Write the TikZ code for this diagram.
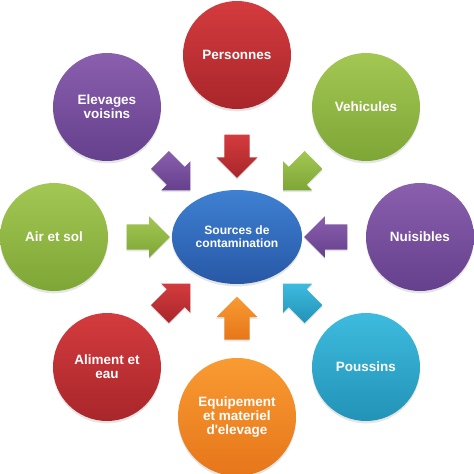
\documentclass[tikz,border=0pt]{standalone}
\usepackage{fontspec}
\setmainfont{Liberation Sans}[Ligatures=TeXOff]
\usepackage{tikz}
\usetikzlibrary{shapes.geometric,shapes.arrows,calc,shadows}
\definecolor{redtop}{HTML}{D43B3E}
\definecolor{redbot}{HTML}{A8262A}
\definecolor{greentop}{HTML}{A3C753}
\definecolor{greenbot}{HTML}{7EA636}
\definecolor{purptop}{HTML}{8A5FAE}
\definecolor{purpbot}{HTML}{65408C}
\definecolor{bluetop}{HTML}{3F80D2}
\definecolor{bluebot}{HTML}{2758A6}
\definecolor{tealtop}{HTML}{3DBBDE}
\definecolor{tealbot}{HTML}{2293B7}
\definecolor{orgtop}{HTML}{F99B32}
\definecolor{orgbot}{HTML}{E6761A}

\begin{document}
\begin{tikzpicture}[
src/.style={ellipse,minimum width=3.05cm,minimum height=2.35cm,top color=bluetop,bottom color=bluebot,text=white,align=center,font=\fontsize{8.6}{9.2}\selectfont\bfseries,drop shadow={opacity=0.2,shadow xshift=0pt,shadow yshift=-0.06cm}},
circ/.style={circle,minimum size=2.7cm,inner sep=0pt,text=white,align=center,font=\fontsize{9.6}{10}\selectfont\bfseries,drop shadow={opacity=0.2,shadow xshift=0pt,shadow yshift=-0.06cm}},
barr/.style={single arrow,minimum height=1.08cm,inner xsep=0pt,inner ysep=0.31cm,single arrow head extend=0.2cm,drop shadow={opacity=0.2,shadow xshift=0pt,shadow yshift=-0.04cm}},
red/.style={top color=redtop,bottom color=redbot},
green/.style={top color=greentop,bottom color=greenbot},
purple/.style={top color=purptop,bottom color=purpbot},
teal/.style={top color=tealtop,bottom color=tealbot},
orange/.style={top color=orgtop,bottom color=orgbot}
]
\useasboundingbox (-5.925,-5.925) rectangle (5.925,5.925);
\fill[white] (-5.925,-5.925) rectangle (5.925,5.925);
\node[src] (src) at (0,0) {Sources de\\contamination};
\node[circ,red] (pers) at (0,4.55) {Personnes};
\node[circ,green] (vehi) at (3.225,3.25) {Vehicules};
\node[circ,purple] (nuis) at (4.575,0) {Nuisibles};
\node[circ,teal] (pous) at (3.225,-3.25) {Poussins};
\node[circ,orange,minimum size=2.95cm] (equip) at (0,-4.5) {Equipement\\et materiel\\d'elevage};
\node[circ,red] (alim) at (-3.25,-3.25) {Aliment et\\eau};
\node[circ,green] (air) at (-4.575,0) {Air et sol};
\node[circ,purple] (elev) at (-3.25,3.25) {Elevages\\voisins};
% fleches vers le centre
\node[barr,red,rotate=-90] (apers) at ($(src)!0.478!(pers)$) {};
\node[barr,green,rotate=-135] (avehi) at ($(src)!0.51!(vehi)$) {};
\node[barr,purple,rotate=180] (anuis) at ($(src)!0.52!(nuis)$) {};
\node[barr,teal,rotate=135] (apous) at ($(src)!0.51!(pous)$) {};
\node[barr,orange,rotate=90] (aequip) at ($(src)!0.486!(equip)$) {};
\node[barr,red,rotate=45] (aalim) at ($(src)!0.51!(alim)$) {};
\node[barr,green] (aair) at ($(src)!0.52!(air)$) {};
\node[barr,purple,rotate=-45] (aelev) at ($(src)!0.51!(elev)$) {};
\end{tikzpicture}
\end{document}
